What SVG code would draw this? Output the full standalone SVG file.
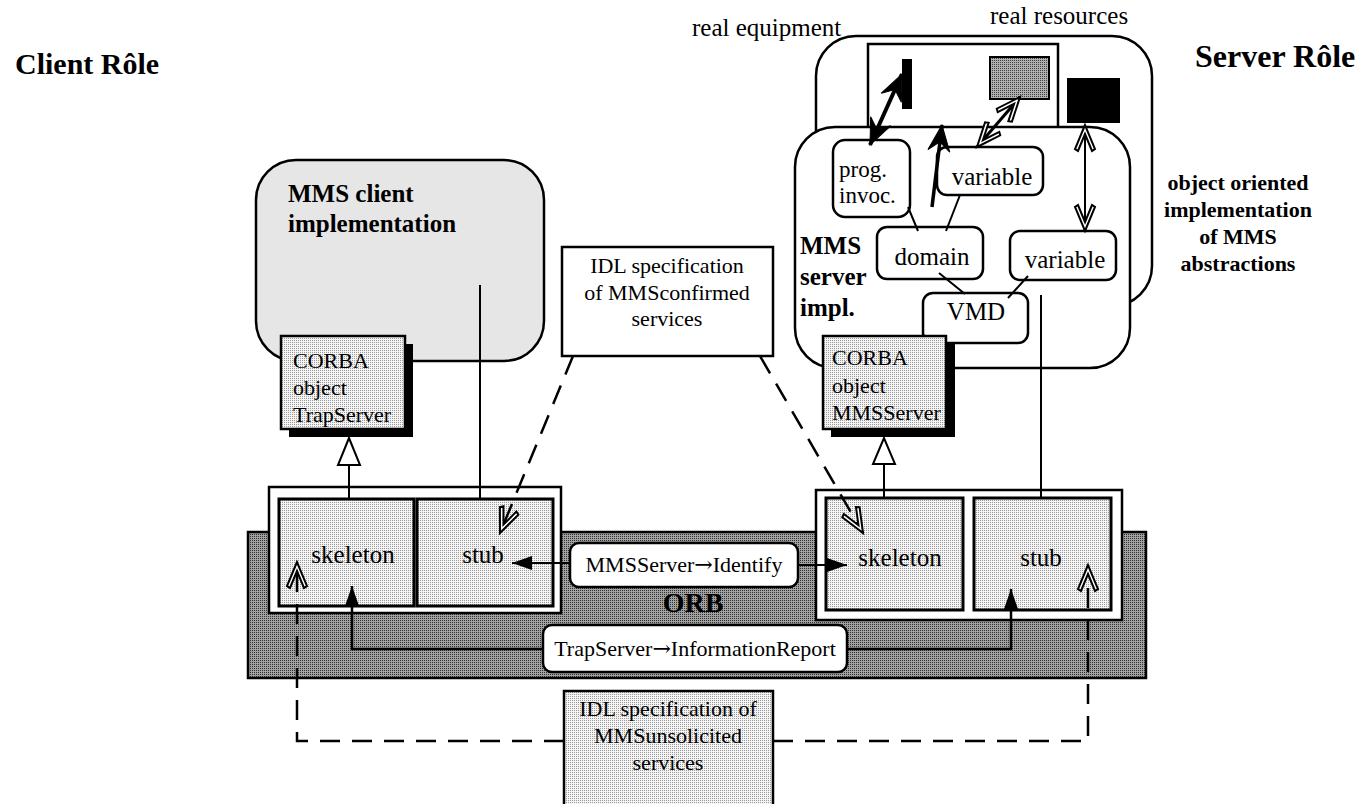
<svg xmlns="http://www.w3.org/2000/svg" width="1364" height="804" viewBox="0 0 1364 804">
<style>
text{font-family:"Liberation Serif","Times New Roman",serif;fill:#000}
.t22{font-size:22px}
.t25{font-size:25px}
.b{font-weight:bold}
.arr{font-family:"DejaVu Serif","DejaVu Sans",serif}
.box{stroke:#000;stroke-width:2.5}
.ln{fill:none;stroke:#000;stroke-width:2}
.w25{stroke-width:2.5}
.w3{stroke-width:3}
.w35{stroke-width:3.5}
.w4{stroke-width:4}
.ds{fill:none;stroke:#000;stroke-width:2.5;stroke-dasharray:20 12}
</style>
<defs>
<pattern id="lt" width="2" height="2" patternUnits="userSpaceOnUse"><rect width="2" height="2" fill="#f4f4f4"/><rect width="1" height="1" fill="#9a9a9a"/></pattern>
<pattern id="dk" width="2" height="2" patternUnits="userSpaceOnUse"><rect width="2" height="2" fill="#a2a2a2"/><rect width="1" height="1" fill="#303030"/></pattern>
<pattern id="md" width="2" height="2" patternUnits="userSpaceOnUse"><rect width="2" height="2" fill="#b0b0b0"/><rect width="1" height="1" fill="#404040"/></pattern>
<marker id="fa" markerUnits="userSpaceOnUse" orient="auto" refX="0" refY="0" markerWidth="1" markerHeight="1" overflow="visible"><path d="M0,0 L-20,-7 L-20,7 z" fill="#000"/></marker>
<marker id="hv" markerUnits="userSpaceOnUse" orient="auto-start-reverse" refX="0" refY="0" markerWidth="1" markerHeight="1" overflow="visible"><path d="M0,0 L-26,-11 L-17,0 L-26,11 z" fill="#000" stroke="#000" stroke-width="1"/></marker>
<marker id="ch" markerUnits="userSpaceOnUse" orient="auto-start-reverse" refX="0" refY="0" markerWidth="1" markerHeight="1" overflow="visible"><path d="M0,0 L-24,-10 L-26,-7 L-9,0 L-26,7 L-24,10 z" fill="#fff" stroke="#000" stroke-width="2" stroke-linejoin="miter"/></marker>
</defs>
<rect width="1364" height="804" fill="#fff"/>

<g id="labels">
<text x="15" y="74" class="b" font-size="30">Client Rôle</text>
<text x="1195" y="67" class="b" font-size="32">Server Rôle</text>
<text x="692" y="36" font-size="25">real equipment</text>
<text x="990" y="24" font-size="25">real resources</text>
<g class="b t22" text-anchor="middle">
<text x="1238" y="190">object oriented</text>
<text x="1238" y="217">implementation</text>
<text x="1238" y="244">of MMS</text>
<text x="1238" y="271">abstractions</text>
</g>
</g>

<g id="real-equipment">
<rect x="816" y="36" width="336" height="270" rx="40" fill="#fff" class="box"/>
<rect x="868" y="44" width="190" height="90" fill="#fff" class="box"/>
<rect x="902" y="59" width="10" height="50" fill="#000"/>
<rect x="990" y="57" width="59" height="42" fill="url(#md)" stroke="#000" stroke-width="2"/>
<rect x="1067" y="78" width="53" height="45" fill="#000"/>
</g>

<g id="mms-server-impl">
<rect x="795" y="127" width="335" height="241" rx="40" fill="#fff" class="box"/>
<g class="b t25">
<text x="800" y="254">MMS</text>
<text x="800" y="285">server</text>
<text x="800" y="316">impl.</text>
</g>
</g>

<g id="prog-invoc">
<rect x="833" y="140" width="77" height="77" rx="12" fill="#fff" class="box"/>
<text x="839" y="177" font-size="23">prog.</text>
<text x="839" y="203" font-size="23">invoc.</text>
</g>
<g id="variable-top">
<rect x="937" y="147" width="106" height="48" rx="10" fill="#fff" class="box"/>
<text x="992" y="185" class="t25" text-anchor="middle">variable</text>
</g>
<g id="domain">
<rect x="877" y="227" width="106" height="52" rx="10" fill="#fff" class="box"/>
<text x="932" y="265" class="t25" text-anchor="middle">domain</text>
</g>
<g id="variable-right">
<rect x="1010" y="231" width="106" height="49" rx="10" fill="#fff" class="box"/>
<text x="1065" y="268" class="t25" text-anchor="middle">variable</text>
</g>
<g id="vmd">
<rect x="923" y="293" width="105" height="50" rx="10" fill="#fff" class="box"/>
<text x="976" y="320" class="t25" text-anchor="middle">VMD</text>
</g>

<g id="mms-client-impl">
<rect x="256" y="160" width="288" height="201" rx="40" fill="#e6e6e6" class="box"/>
<text x="288" y="202" class="b t25">MMS client</text>
<text x="288" y="232" class="b t25">implementation</text>
</g>

<g id="idl-confirmed">
<rect x="562" y="247" width="211" height="109" fill="#fff" class="box"/>
<g class="t22" text-anchor="middle">
<text x="667" y="273">IDL specification</text>
<text x="667" y="300">of MMSconfirmed</text>
<text x="667" y="326">services</text>
</g>
</g>

<g id="orb">
<rect x="248" y="532" width="898" height="146" fill="url(#dk)" class="box"/>
<text x="693" y="612" class="b" font-size="28" text-anchor="middle">ORB</text>
</g>

<g id="client-orb-side">
<rect x="269" y="487" width="292" height="126" fill="#fff" class="box"/>
<g id="client-skeleton">
<rect x="279" y="499" width="135" height="107" fill="url(#lt)" stroke="#000" stroke-width="3"/>
<text x="353" y="563" class="t25" text-anchor="middle">skeleton</text>
</g>
<g id="client-stub">
<rect x="417" y="499" width="136" height="107" fill="url(#lt)" stroke="#000" stroke-width="3"/>
<text x="483" y="563" class="t25" text-anchor="middle">stub</text>
</g>
</g>

<g id="server-orb-side">
<rect x="816" y="490" width="306" height="130" fill="#fff" class="box"/>
<g id="server-skeleton">
<rect x="826" y="498" width="137" height="112" fill="url(#lt)" stroke="#000" stroke-width="3"/>
<text x="900" y="566" class="t25" text-anchor="middle">skeleton</text>
</g>
<g id="server-stub">
<rect x="974" y="498" width="137" height="112" fill="url(#lt)" stroke="#000" stroke-width="3"/>
<text x="1041" y="566" class="t25" text-anchor="middle">stub</text>
</g>
</g>

<g id="identify">
<rect x="570" y="543" width="228" height="44" rx="9" fill="#fff" class="box"/>
<text x="684" y="572" class="t22" text-anchor="middle">MMSServer<tspan class="arr">→</tspan>Identify</text>
</g>
<g id="information-report">
<rect x="543" y="625" width="304" height="47" rx="9" fill="#fff" class="box"/>
<text x="695" y="656" class="t22" text-anchor="middle">TrapServer<tspan class="arr">→</tspan>InformationReport</text>
</g>

<g id="idl-unsolicited">
<rect x="564" y="691" width="209" height="120" fill="url(#lt)" class="box"/>
<g class="t22" text-anchor="middle">
<text x="668" y="716">IDL specification of</text>
<text x="668" y="743">MMSunsolicited</text>
<text x="668" y="770">services</text>
</g>
</g>

<g id="corba-trapserver">
<rect x="289" y="344" width="124" height="93" fill="#000"/>
<rect x="281" y="336" width="124" height="93" fill="url(#lt)" class="box"/>
<g class="t22">
<text x="293" y="368">CORBA</text>
<text x="293" y="395">object</text>
<text x="293" y="422">TrapServer</text>
</g>
</g>

<g id="corba-mmsserver">
<rect x="831" y="344" width="124" height="93" fill="#000"/>
<rect x="823" y="336" width="123" height="93" fill="url(#lt)" class="box"/>
<g class="t22">
<text x="832" y="365">CORBA</text>
<text x="832" y="393">object</text>
<text x="832" y="420">MMSServer</text>
</g>
</g>

<g id="connectors">
<path class="ln" d="M480,285 V499"/>
<path class="ln" d="M1041,295 V498"/>
<path class="ln" d="M349,465 V499"/>
<polygon points="349,438 338,465 360,465" fill="#fff" stroke="#000" stroke-width="2"/>
<path class="ln" d="M884,464 V498"/>
<polygon points="884,438 873,464 895,464" fill="#fff" stroke="#000" stroke-width="2"/>
<path class="ds" d="M573,356 L500,533" marker-end="url(#ch)"/>
<path class="ds" d="M760,356 L863,533" marker-end="url(#ch)"/>
<path class="ds" d="M564,741 H297 V562" marker-end="url(#ch)"/>
<path class="ds" d="M773,741 H1088 V565" marker-end="url(#ch)"/>
<path class="ln" d="M570,563 H512" marker-end="url(#fa)"/>
<path class="ln" d="M798,565 H847" marker-end="url(#fa)"/>
<path class="ln w25" d="M543,649 H352 V586" marker-end="url(#fa)"/>
<path class="ln w25" d="M847,649 H1011 V589" marker-end="url(#fa)"/>
<path class="ln" d="M908,207 L918,231"/>
<path class="ln" d="M960,195 L946,231"/>
<path class="ln" d="M939,273 L965,294"/>
<path class="ln" d="M1028,276 L1008,298"/>
<path class="ln w4" d="M870,145 L902,74" marker-start="url(#hv)" marker-end="url(#hv)"/>
<path class="ln w35" d="M932,207 L942,125" marker-end="url(#hv)"/>
<path class="ln w3" d="M977,147 L1020,97" marker-start="url(#ch)" marker-end="url(#ch)"/>
<path class="ln" d="M1085,125 V231" marker-start="url(#ch)" marker-end="url(#ch)"/>
</g>
</svg>
